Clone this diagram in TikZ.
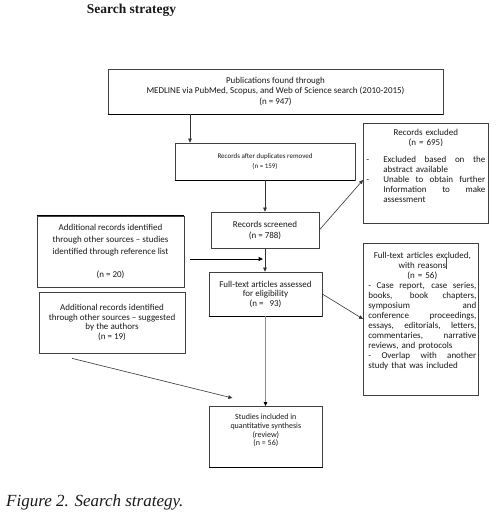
\documentclass[tikz,border=0pt]{standalone}
\usepackage{fontspec}
\setmainfont{Carlito}
\newfontfamily\tnrfont{Liberation Serif}
\usetikzlibrary{arrows.meta}
\newcommand\jline[2]{\makebox[#1][s]{\spaceskip=0.226em plus 1fil\xspaceskip=0.226em plus 1fil\relax #2}}
\newcommand\lline[2]{\makebox[#1][l]{#2}}
\begin{document}
\begin{tikzpicture}[x=1bp,y=-1bp,
  box/.style={draw=black!75, line width=0.7bp, inner sep=0pt, align=center, fill=white, text=black!90},
  txt/.style={inner sep=0pt, align=center, text=black!90},
  arr/.style={draw=black!80, line width=0.6bp, -{Triangle[length=4bp,width=3.6bp]}},
  arrk/.style={draw=black, line width=1bp, -{Triangle[length=4.5bp,width=4bp]}},
  arrg/.style={draw=black!45, line width=1.4bp, -{Triangle[length=4bp,width=3.6bp,color=black]}},
  edgeb/.style={draw=black, line width=1.1bp},
  artifact/.style={draw=black!70, line width=0.5bp}
]
\useasboundingbox (0,0) rectangle (499,515);

\node[txt, font=\fontsize{13.5bp}{15bp}\selectfont\tnrfont\bfseries] (title) at (131.5,10) {Search strategy};

\node[box, minimum width=335bp, minimum height=45bp, font=\fontsize{9bp}{10.5bp}\selectfont] (top) at (275.5,91.5)
  {Publications found through\\MEDLINE via PubMed, Scopus, and Web of Science search (2010-2015)\\(n = 947)};

\node[box, minimum width=180bp, minimum height=37bp, font=\fontsize{7bp}{10bp}\selectfont] (dup) at (265,161.5)
  {Records after duplicates removed\\(n = 159)};

\node[box, minimum width=108bp, minimum height=36bp, font=\fontsize{9bp}{11bp}\selectfont] (scr) at (265,230)
  {Records screened\\(n = 788)};

\node[box, minimum width=113bp, minimum height=44bp, font=\fontsize{9bp}{9.5bp}\selectfont] (ass) at (265.5,294)
  {Full-text articles assessed\\for eligibility\\(n =\ \ \ 93)};

\node[box, minimum width=113bp, minimum height=61bp, anchor=north west] (stu) at (209,406) {};
\node[txt, anchor=north, font=\fontsize{8bp}{8.7bp}\selectfont] (stutxt) at ([yshift=-8bp]stu.north)
  {Studies included in\\quantitative synthesis\\(review)\\(n = 56)};

\node[box, minimum width=125bp, minimum height=100bp, anchor=north west] (ex1) at (363,123) {};
\node[txt, anchor=north, text width=119bp, font=\fontsize{9bp}{10bp}\selectfont] (ex1txt) at ([yshift=-5.7bp]ex1.north)
  {Records excluded\\(n = 695)\\[7bp]
   \makebox[17bp][l]{-}\jline{102bp}{Excluded based on the}\\
   \hspace*{17bp}\lline{102bp}{abstract available}\\
   \makebox[17bp][l]{-}\jline{102bp}{Unable to obtain further}\\
   \hspace*{17bp}\jline{102bp}{Information to make}\\
   \hspace*{17bp}\lline{102bp}{assessment}};

\node[box, minimum width=115bp, minimum height=152bp, anchor=north west] (ex2) at (363,243) {};
\node[txt, anchor=north, text width=108bp, font=\fontsize{9bp}{10bp}\selectfont] (ex2txt) at ([xshift=1.5bp,yshift=-8.7bp]ex2.north)
  {Full-text articles excluded,\\with reasons\\(n = 56)\\
   \jline{108bp}{- Case report, case series,}\\
   \jline{108bp}{books, book chapters,}\\
   \jline{108bp}{symposium and}\\
   \jline{108bp}{conference proceedings,}\\
   \jline{108bp}{essays, editorials, letters,}\\
   \jline{108bp}{commentaries, narrative}\\
   \lline{108bp}{reviews, and protocols}\\
   \jline{108bp}{- Overlap with another}\\
   \lline{108bp}{study that was included}};

\node[box, minimum width=147bp, minimum height=71bp, font=\fontsize{9bp}{11.75bp}\selectfont] (ad1) at (110.5,251.5)
  {Additional records identified\\through other sources – studies\\identified through reference list\\[11.75bp](n = 20)};

\node[box, minimum width=146bp, minimum height=61bp, font=\fontsize{9bp}{9.5bp}\selectfont] (ad2) at (112,322.5)
  {Additional records identified\\through other sources – suggested\\by the authors\\(n = 19)};

% emphasized edges
\draw[edgeb] (top.south west) -- (top.south east);
\draw[edgeb] (dup.south west) -- (dup.south east);
\draw[edgeb] (ass.south west) -- (ass.south east);
\draw[edgeb] (stu.south west) -- (stu.south east);
\draw[edgeb] (ad1.north west) -- (ad1.north east);

% connectors
\coordinate (xa) at (190,0);
\draw[arr] (top.south -| xa) -- (dup.north -| xa);
\draw[arr] (dup.south) -- (scr.north);
\draw[arr] (scr.south) -- (scr.south |- ass.north);
\coordinate (ha) at (190,259);
\draw[arrk, shorten >=2bp] (ha) -- (ha -| scr.south);
\coordinate (ya) at (0,180);
\draw[arr] (scr.east) -- (ex1.west |- ya);
\coordinate (yb) at (0,319);
\draw[arr] (ass.east) -- (ex2.west |- yb);
\draw[arrg] (ass.south) -- (ass.south |- stu.north);
\draw[arr] ([xshift=-40bp,yshift=-5bp]ad2.south) -- ([xshift=-33.5bp,yshift=8bp]stu.north);

\draw[artifact] (446,257) -- (446,269);

\node[txt, anchor=west, font=\fontsize{17bp}{19bp}\selectfont\tnrfont\itshape] (cap) at (6,502) {Figure 2. Search strategy.};
\end{tikzpicture}
\end{document}
